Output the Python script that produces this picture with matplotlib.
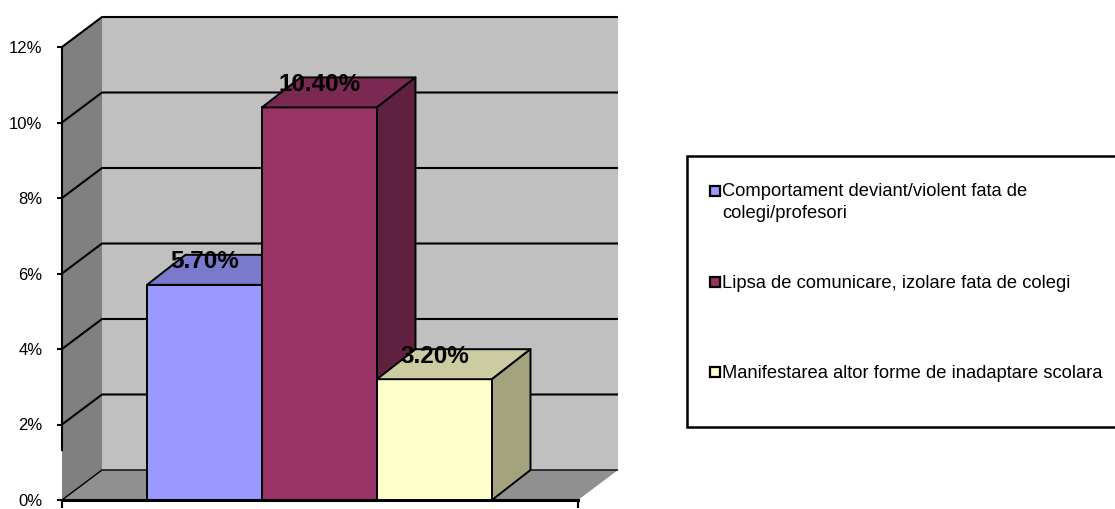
import matplotlib
matplotlib.use("Agg")
import matplotlib.pyplot as plt
from matplotlib.patches import Polygon, Rectangle

plt.rcParams['font.family'] = ['Liberation Sans', 'DejaVu Sans']

categories = ["Comportament deviant/violent fata de\ncolegi/profesori",
              "Lipsa de comunicare, izolare fata de colegi",
              "Manifestarea altor forme de inadaptare scolara"]
values = [5.7, 10.4, 3.2]
value_labels = ["5.70%", "10.40%", "3.20%"]
colors = ["#9999FF", "#993366", "#FFFFCC"]
top_colors = ["#7A7ACC", "#7A2952", "#CCCCA3"]
side_colors = ["#606099", "#602040", "#A3A380"]
y_ticks = [0, 2, 4, 6, 8, 10, 12]

W, H = 1115, 509
fig = plt.figure(figsize=(W / 100, H / 100), dpi=100)
ax = fig.add_axes([62 / W, (H - 500) / H, (618 - 62) / W, (500 - 17) / H])

# one bar is 115 px wide, one percent is 37.75 px high
x0, x1 = -1.239, 3.248
dx, dy = 40 / 115, 30 / 37.75
bar_dx = 38.5 / 115
ax.set_xlim(x0, x1 + dx)
ax.set_ylim(0, 12 + dy)

ax.add_patch(Polygon([(x0 + dx, dy), (x0 + dx, 12 + dy), (x1 + dx, 12 + dy), (x1 + dx, dy)],
                     fc="#C0C0C0", ec="none", zorder=1))
ax.add_patch(Polygon([(x0, 0), (x0, 12), (x0 + dx, 12 + dy), (x0 + dx, dy)],
                     fc="#808080", ec="none", zorder=1))
ax.add_patch(Polygon([(x0, 0), (x0 + dx, dy), (x1 + dx, dy), (x1, 0)],
                     fc="#909090", ec="none", zorder=1))

for t in y_ticks:
    lw = 1.0 if t == 0 else 1.5
    ax.plot([x0, x0 + dx, x1 + dx], [t, t + dy, t + dy], color="black", lw=lw, zorder=2,
            solid_capstyle="butt", clip_on=False)

for i, v in enumerate(values):
    l, r = i - 0.5, i + 0.5
    ax.bar(i, v, width=1, color=colors[i], edgecolor="black", linewidth=1.4, zorder=3 + i)
    ax.add_patch(Polygon([(l, v), (l + bar_dx, v + dy), (r + bar_dx, v + dy), (r, v)],
                         fc=top_colors[i], ec="black", lw=1.4, joinstyle="round", zorder=3 + i))
    ax.add_patch(Polygon([(r, 0), (r, v), (r + bar_dx, v + dy), (r + bar_dx, dy)],
                         fc=side_colors[i], ec="black", lw=1.4, joinstyle="round", zorder=3 + i))

for i, v in enumerate(values):
    ax.annotate(value_labels[i], (i, v), xytext=(0, 16.6), textcoords="offset points",
                ha="center", va="center", fontsize=17.5, fontweight="bold", color="black", zorder=10)

for s in ["top", "right"]:
    ax.spines[s].set_visible(False)
# the axis line stops short of the floor in the original
ax.spines["left"].set_bounds(1.33, 12)
ax.spines["left"].set_linewidth(1.5)
ax.spines["left"].set_zorder(9)
ax.spines["bottom"].set_bounds(x0, x1)
ax.spines["bottom"].set_linewidth(2.2)
ax.spines["bottom"].set_zorder(9)
ax.patch.set_visible(False)

ax.set_yticks(y_ticks)
ax.set_yticklabels([f"{t}%" for t in y_ticks], fontsize=12)
ax.tick_params(axis="y", length=3.5, width=1.5, pad=10.5, color="black")
ax.set_xticks([x0, x1])
ax.set_xticklabels([])
ax.tick_params(axis="x", length=6, width=1.5, color="black")

# legend drawn in pixel coordinates, its entries are not evenly spaced
lax = fig.add_axes([0, 0, 1, 1])
lax.set_xlim(0, W)
lax.set_ylim(H, 0)
lax.axis("off")
lax.add_patch(Rectangle((686.5, 156), 440, 271, fc="white", ec="black", lw=1.8))
entry_y = [191, 282, 372]
for name, c, y in zip(categories, colors, entry_y):
    lax.add_patch(Rectangle((710, y - 5.5), 10, 10, fc=c, ec="black", lw=1.6))
    lax.text(722, y + (11.5 if "\n" in name else 1), name, fontsize=13.2, va="center", ha="left",
             linespacing=1.35, color="black")

fig.savefig("out.png", dpi=100)
